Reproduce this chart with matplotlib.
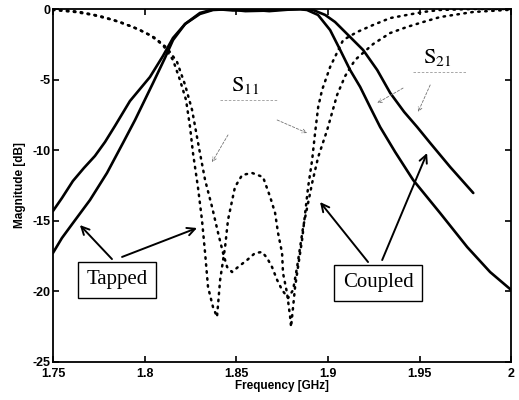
import matplotlib
matplotlib.use("Agg")
import matplotlib.pyplot as plt

# ---- data (frequency in GHz, magnitude in dB) ----
s21_wide_f = [1.7500, 1.7549, 1.7609, 1.7669, 1.7729, 1.7784, 1.7838, 1.7920, 1.8029, 1.8100,
              1.8155, 1.8221, 1.8302, 1.8373, 1.8450, 1.8550, 1.8650, 1.8750, 1.8850, 1.8919,
              1.8985, 1.9039, 1.9121, 1.9192, 1.9269, 1.9340, 1.9416, 1.9487, 1.9558, 1.9667, 1.9793]
s21_wide_db = [-14.31, -13.39, -12.18, -11.26, -10.41, -9.42, -8.29, -6.52, -4.82, -3.33,
               -2.05, -1.06, -0.35, -0.07, -0.02, -0.15, -0.12, -0.03, 0.0, -0.07,
               -0.42, -0.92, -1.98, -2.90, -4.32, -5.95, -7.29, -8.36, -9.49, -11.19, -13.03]

s21_narrow_f = [1.7500, 1.7549, 1.7609, 1.7702, 1.7795, 1.7882, 1.7948, 1.8046, 1.8111, 1.8155,
                1.8221, 1.8302, 1.8384, 1.8480, 1.8580, 1.8680, 1.8780, 1.8850, 1.8886, 1.8946,
                1.9012, 1.9067, 1.9121, 1.9176, 1.9230, 1.9285, 1.9367, 1.9465, 1.9612, 1.9760,
                1.9885, 2.0000]
s21_narrow_db = [-17.28, -16.22, -15.16, -13.53, -11.61, -9.49, -7.86, -5.24, -3.47, -2.20,
                 -1.06, -0.28, 0.0, -0.10, -0.05, -0.15, -0.05, -0.02, -0.07, -0.42,
                 -1.49, -2.90, -4.32, -5.52, -6.94, -8.36, -10.13, -12.11, -14.45, -16.86,
                 -18.63, -19.90]

s11_deep_f = [1.7500, 1.7620, 1.7718, 1.7828, 1.7937, 1.8029, 1.8100, 1.8155, 1.8193, 1.8226,
              1.8248, 1.8264, 1.8291, 1.8313, 1.8330, 1.8346, 1.8373, 1.8395, 1.8412, 1.8439,
              1.8455, 1.8493, 1.8532, 1.8586, 1.8646, 1.8685, 1.8712, 1.8728, 1.8750, 1.8755,
              1.8777, 1.8794, 1.8799, 1.8821, 1.8837, 1.8859, 1.8876, 1.8892, 1.8914, 1.8930,
              1.8947, 1.8968, 1.9012, 1.9083, 1.9159, 1.9247, 1.9340, 1.9432, 1.9520, 1.9612,
              1.9793, 2.0000]
s11_deep_db = [-0.07, -0.21, -0.42, -0.78, -1.27, -1.84, -2.55, -3.61, -5.03, -6.44,
               -8.36, -10.20, -12.61, -14.94, -17.28, -19.69, -21.10, -21.81, -19.19, -16.86,
               -14.94, -12.61, -11.76, -11.61, -11.90, -13.31, -14.45, -15.86, -17.28, -18.70,
               -20.11, -21.81, -22.52, -19.69, -18.27, -16.36, -14.45, -12.61, -10.69, -8.78,
               -6.94, -5.74, -4.11, -2.20, -1.63, -1.13, -0.64, -0.42, -0.21, -0.07,
               0.0, 0.0]

s11_shallow_f = [1.7500, 1.7647, 1.7757, 1.7866, 1.7975, 1.8057, 1.8122, 1.8177, 1.8221, 1.8259,
                 1.8286, 1.8302, 1.8330, 1.8368, 1.8401, 1.8428, 1.8450, 1.8477, 1.8510, 1.8559,
                 1.8603, 1.8641, 1.8668, 1.8695, 1.8723, 1.8750, 1.8783, 1.8810, 1.8832, 1.8865,
                 1.8892, 1.8914, 1.8947, 1.8996, 1.9050, 1.9094, 1.9148, 1.9247, 1.9340, 1.9432,
                 1.9520, 1.9612, 1.9793, 2.0000]
s11_shallow_db = [0.0, -0.21, -0.50, -0.92, -1.49, -2.05, -2.76, -3.75, -5.38, -7.15,
                  -9.07, -10.20, -12.11, -14.02, -15.86, -17.28, -18.27, -18.63, -18.27, -17.78,
                  -17.28, -17.21, -17.63, -18.27, -19.19, -19.90, -20.47, -19.90, -18.27, -15.44,
                  -13.74, -12.32, -10.48, -8.57, -6.09, -4.75, -3.61, -2.48, -1.70, -1.27,
                  -0.92, -0.57, -0.21, -0.05]

x_ticks = [1.75, 1.8, 1.85, 1.9, 1.95, 2.0]
x_tick_labels = ["1.75", "1.8", "1.85", "1.9", "1.95", "2"]
y_ticks = [-25, -20, -15, -10, -5, 0]
y_tick_labels = ["-25", "-20", "-15", "-10", "-5", "0"]

# ---- figure ----
plt.rcParams['mathtext.fontset'] = 'stix'
fig = plt.figure(figsize=(5.19, 4.0), dpi=100)
ax = fig.add_axes([0.102, 0.095, 0.883, 0.8825])

ax.plot(s21_wide_f, s21_wide_db, color='black', lw=1.9, solid_capstyle='round')
ax.plot(s21_narrow_f, s21_narrow_db, color='black', lw=1.9, solid_capstyle='round')
ax.plot(s11_deep_f, s11_deep_db, color='black', lw=1.8, linestyle=(0, (0.6, 2.2)),
        dash_capstyle='round')
ax.plot(s11_shallow_f, s11_shallow_db, color='black', lw=1.8, linestyle=(0, (0.6, 2.2)),
        dash_capstyle='round')

ax.set_xlim(1.75, 2.0)
ax.set_ylim(-25, 0)
ax.set_xticks(x_ticks)
ax.set_xticklabels(x_tick_labels)
ax.set_yticks(y_ticks)
ax.set_yticklabels(y_tick_labels)
ax.tick_params(direction='in', top=True, right=True, length=4, width=1.2)
ax.tick_params(axis='x', pad=4)
ax.tick_params(axis='y', pad=2)
for lab in ax.get_xticklabels() + ax.get_yticklabels():
    lab.set_fontfamily('Liberation Sans')
    lab.set_fontweight('bold')
    lab.set_fontsize(9)
for sp in ax.spines.values():
    sp.set_linewidth(1.3)

ax.set_xlabel('Frequency [GHz]', fontfamily='Liberation Sans', fontweight='bold',
              fontsize=8.5, labelpad=0)
ax.set_ylabel('Magnitude [dB]', fontfamily='Liberation Sans', fontweight='bold',
              fontsize=8.5, labelpad=4)

serif = 'Liberation Serif'
# S11 / S21 labels with faint lines
ax.text(1.8548, -5.45, r'$\mathrm{S}_{11}$', fontsize=16, ha='center', va='center')
ax.plot([1.8412, 1.8723], [-6.44, -6.44], color='0.6', lw=0.6, ls=(0, (3, 2)))
ax.text(1.9596, -3.47, r'$\mathrm{S}_{21}$', fontsize=16, ha='center', va='center')
ax.plot([1.9465, 1.9760], [-4.46, -4.46], color='0.6', lw=0.6, ls=(0, (3, 2)))

faint = dict(arrowstyle='->', color='0.45', lw=0.6, linestyle=(0, (3, 2)),
             mutation_scale=7, shrinkA=0, shrinkB=0)
ax.annotate('', xy=(1.8368, -10.84), xytext=(1.8455, -8.92), arrowprops=faint)
ax.annotate('', xy=(1.8886, -8.78), xytext=(1.8723, -7.86), arrowprops=faint)
ax.annotate('', xy=(1.9269, -6.66), xytext=(1.9410, -5.60), arrowprops=faint)
ax.annotate('', xy=(1.9492, -7.29), xytext=(1.9558, -5.38), arrowprops=faint)

# boxed labels
box = dict(boxstyle='square,pad=0.4', fc='white', ec='black', lw=1.0)
ax.text(1.7849, -19.19, 'Tapped', fontfamily=serif, fontsize=15, ha='center', va='center', bbox=box)
ax.text(1.9274, -19.40, 'Coupled', fontfamily=serif, fontsize=15, ha='center', va='center', bbox=box)

solid = dict(arrowstyle='->', color='black', lw=1.4, mutation_scale=14, shrinkA=0, shrinkB=0)
ax.annotate('', xy=(1.7647, -15.30), xytext=(1.7822, -17.71), arrowprops=solid)
ax.annotate('', xy=(1.8286, -15.51), xytext=(1.7877, -17.56), arrowprops=solid)
ax.annotate('', xy=(1.8957, -13.67), xytext=(1.9219, -17.92), arrowprops=solid)
ax.annotate('', xy=(1.9541, -10.20), xytext=(1.9296, -17.78), arrowprops=solid)

fig.savefig('out.png', dpi=100)
